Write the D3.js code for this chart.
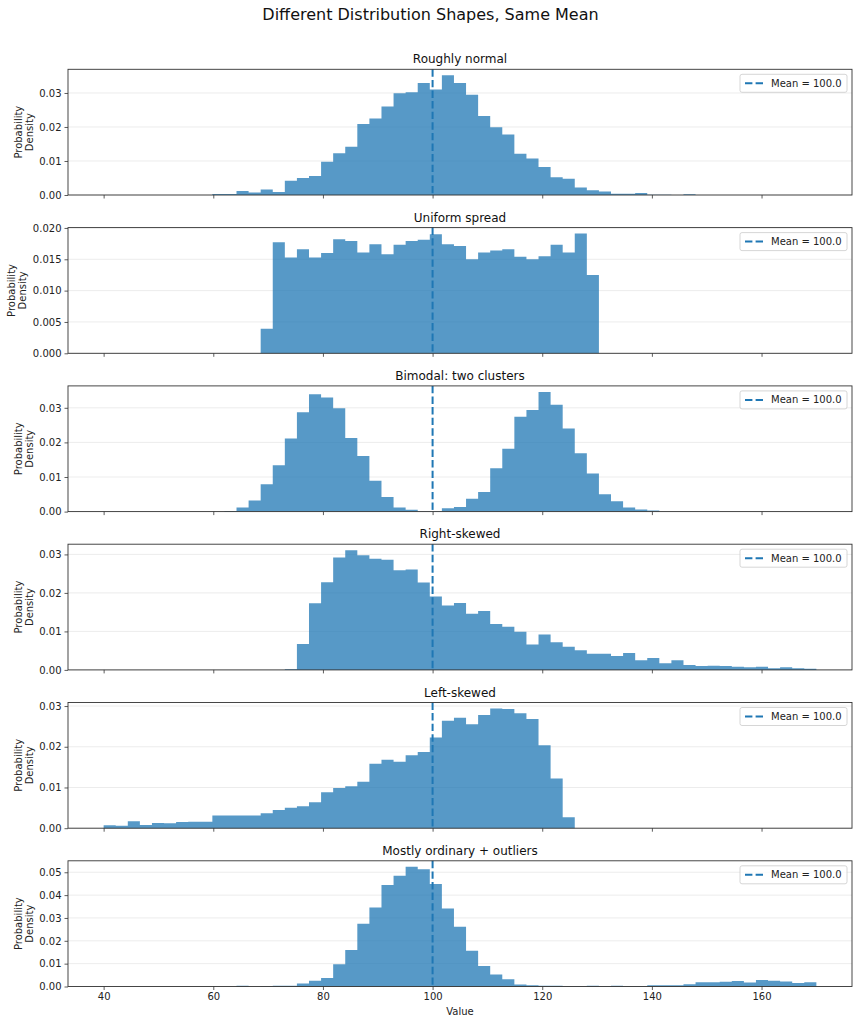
<!DOCTYPE html>
<html>
<head>
<meta charset="utf-8">
<script src="https://cdn.jsdelivr.net/npm/d3@7"></script>
<style>
    body { margin: 0; background: #fff; }
    svg { font-family: "DejaVu Sans", sans-serif; }
</style>
</head>
<body>
<div id="chart"></div>
<script>
// shared histogram bins: 59 equal bins from 40 to 170
const binLo = 40
const binHi = 170
const binCount = 59
const xTicks = [40, 60, 80, 100, 120, 140, 160]
const meanValue = 100

const panelTitles = ["Roughly normal", "Uniform spread", "Bimodal: two clusters", "Right-skewed", "Left-skewed", "Mostly ordinary + outliers"]

// first non-empty bin index for each panel
const firstBin = [9, 13, 10, 15, 0, 11]

const normalDensity = [0.0003, 0.0003, 0.0012, 0.0007, 0.0016, 0.0009, 0.0042, 0.0050, 0.0056, 0.0098,
    0.0123, 0.0142, 0.0209, 0.0225, 0.0260, 0.0299, 0.0302, 0.0329, 0.0310, 0.0352,
    0.0329, 0.0295, 0.0232, 0.0199, 0.0178, 0.0121, 0.0107, 0.0082, 0.0052, 0.0048,
    0.0022, 0.0014, 0.0010, 0.0004, 0.0004, 0.0006, 0.0001, 0.0001, 0, 0.0002]
const uniformDensity = [0.0039, 0.0177, 0.0153, 0.0166, 0.0153, 0.0160, 0.0182, 0.0179, 0.0161, 0.0174,
    0.0158, 0.0173, 0.0179, 0.0181, 0.0190, 0.0174, 0.0171, 0.0150, 0.0161, 0.0164,
    0.0166, 0.0154, 0.0150, 0.0155, 0.0173, 0.0161, 0.0191, 0.0125]
const bimodalDensity = [0.0002, 0.0012, 0.0032, 0.0079, 0.0134, 0.0211, 0.0287, 0.0339, 0.0330, 0.0299,
    0.0213, 0.0161, 0.0089, 0.0042, 0.0012, 0.0005, 0.0001, 0.0001, 0.0010, 0.0013,
    0.0037, 0.0057, 0.0125, 0.0182, 0.0274, 0.0294, 0.0346, 0.0309, 0.0240, 0.0169,
    0.0110, 0.0050, 0.0030, 0.0012, 0.0006, 0.0003]
const rightDensity = [0.0002, 0.0067, 0.0173, 0.0228, 0.0292, 0.0311, 0.0298, 0.0289, 0.0286, 0.0259,
    0.0261, 0.0227, 0.0191, 0.0167, 0.0174, 0.0146, 0.0153, 0.0119, 0.0112, 0.0099,
    0.0066, 0.0092, 0.0072, 0.0060, 0.0051, 0.0042, 0.0042, 0.0036, 0.0044, 0.0025,
    0.0031, 0.0017, 0.0025, 0.0013, 0.0010, 0.0011, 0.0010, 0.0008, 0.0007, 0.0008,
    0.0004, 0.0007, 0.0004, 0.0003]
const leftDensity = [0.0007, 0.0006, 0.0017, 0.0008, 0.0013, 0.0012, 0.0015, 0.0016, 0.0016, 0.0031,
    0.0031, 0.0031, 0.0031, 0.0037, 0.0045, 0.0050, 0.0054, 0.0064, 0.0088, 0.0099,
    0.0103, 0.0114, 0.0158, 0.0168, 0.0163, 0.0179, 0.0187, 0.0223, 0.0264, 0.0271,
    0.0255, 0.0278, 0.0294, 0.0293, 0.0282, 0.0268, 0.0204, 0.0122, 0.0027]
const outlierDensity = [0.0003, 0, 0.0001, 0.0003, 0.0003, 0.0013, 0.0025, 0.0037, 0.0097, 0.0160,
    0.0275, 0.0346, 0.0444, 0.0485, 0.0524, 0.0513, 0.0449, 0.0341, 0.0262, 0.0156,
    0.0090, 0.0053, 0.0032, 0.0009, 0.0006, 0.0003, 0.0003, 0.0001, 0.0001, 0.0003,
    0.0001, 0.0003, 0.0001, 0.0001, 0.0006, 0.0006, 0.0006, 0.0010, 0.0019, 0.0019,
    0.0021, 0.0024, 0.0018, 0.0028, 0.0025, 0.0022, 0.0015, 0.0019]

const yTicksSmall = [0, 0.01, 0.02, 0.03]
const yTicksUniform = [0, 0.005, 0.010, 0.015, 0.020]
const yTicksOutlier = [0, 0.01, 0.02, 0.03, 0.04, 0.05]

const W = 859, H = 1024
const margin = { left: 68, right: 7 }
const panelTop0 = 69.3, panelStep = 158.3, panelH = 125.7
const barColor = "#1f77b4"

const series = [normalDensity, uniformDensity, bimodalDensity, rightDensity, leftDensity, outlierDensity]
const yTickSets = [yTicksSmall, yTicksUniform, yTicksSmall, yTicksSmall, yTicksSmall, yTicksOutlier]
const yFormats = [".2f", ".3f", ".2f", ".2f", ".2f", ".2f"]

var svg = d3.select("#chart").append("svg")
    .attr("width", W).attr("height", H)

svg.append("text")
    .attr("x", W / 2 + 1).attr("y", 20)
    .attr("text-anchor", "middle")
    .attr("font-size", 16)
    .attr("fill", "#111")
    .text("Different Distribution Shapes, Same Mean")

var binW = (binHi - binLo) / binCount
var x = d3.scaleLinear()
    .domain([binLo - 0.05 * (binHi - binLo), binHi + 0.05 * (binHi - binLo)])
    .range([margin.left, W - margin.right])

series.forEach((vals, p) => {
    var top = panelTop0 + p * panelStep
    // step points: left edge of each bin, plus a closing point at the last right edge
    var pts = vals.map((v, i) => ({ x: binLo + (firstBin[p] + i) * binW, v: v }))
    pts.push({ x: binLo + (firstBin[p] + vals.length) * binW, v: 0 })
    var y = d3.scaleLinear()
        .domain([0, d3.max(vals) * 1.05])
        .range([top + panelH, top])
    var g = svg.append("g")

    // grid
    g.selectAll("line.grid").data(yTickSets[p]).enter().append("line")
        .attr("x1", x.range()[0]).attr("x2", x.range()[1])
        .attr("y1", d => y(d)).attr("y2", d => y(d))
        .attr("stroke", "#b0b0b0").attr("stroke-opacity", 0.3).attr("stroke-width", 0.8)

    // histogram bars as one stepped area
    var area = d3.area()
        .x(d => x(d.x))
        .y0(y(0))
        .y1(d => y(d.v))
        .curve(d3.curveStepAfter)
    g.append("path")
        .datum(pts)
        .attr("d", area)
        .attr("fill", barColor).attr("fill-opacity", 0.75)

    // mean line
    g.append("line")
        .attr("x1", x(meanValue)).attr("x2", x(meanValue))
        .attr("y1", top).attr("y2", top + panelH)
        .attr("stroke", barColor).attr("stroke-width", 2)
        .attr("stroke-dasharray", "7.4,3.2")

    // axes
    var yAxis = d3.axisLeft(y).tickValues(yTickSets[p]).tickFormat(d3.format(yFormats[p])).tickSize(3.5).tickPadding(3)
    var ya = g.append("g").attr("transform", `translate(${x.range()[0]},0)`).call(yAxis)
    var xAxis = d3.axisBottom(x).tickValues(xTicks).tickSize(3.5).tickPadding(3)
    if (p < series.length - 1) xAxis.tickFormat("")
    var xa = g.append("g").attr("transform", `translate(0,${top + panelH})`).call(xAxis)
    ;[ya, xa].forEach(a => {
        a.select(".domain").remove()
        a.selectAll("line").attr("stroke", "#333").attr("stroke-width", 0.8)
        a.selectAll("text").attr("font-size", 10).attr("fill", "#222").attr("font-family", "DejaVu Sans")
    })

    // frame
    g.append("rect")
        .attr("x", x.range()[0]).attr("y", top)
        .attr("width", x.range()[1] - x.range()[0]).attr("height", panelH)
        .attr("fill", "none").attr("stroke", "#333").attr("stroke-width", 0.9)

    // titles
    g.append("text")
        .attr("x", (x.range()[0] + x.range()[1]) / 2).attr("y", top - 6)
        .attr("text-anchor", "middle").attr("font-size", 12).attr("fill", "#111")
        .text(panelTitles[p])
    var labelX = yFormats[p] == ".3f" ? 17 : 24
    var yl = g.append("text")
        .attr("transform", `translate(${labelX},${top + panelH / 2}) rotate(-90)`)
        .attr("text-anchor", "middle").attr("font-size", 10).attr("fill", "#222")
    yl.append("tspan").attr("x", 0).attr("dy", "-0.2em").text("Probability")
    yl.append("tspan").attr("x", 0).attr("dy", "1.1em").text("Density")

    // legend
    var lx = x.range()[1] - 5 - 107, ly = top + 5
    var lg = g.append("g").attr("transform", `translate(${lx},${ly})`)
    lg.append("rect").attr("width", 107).attr("height", 18).attr("rx", 2)
        .attr("fill", "#fff").attr("fill-opacity", 0.8)
        .attr("stroke", "#ccc").attr("stroke-width", 0.8)
    lg.append("line").attr("x1", 5).attr("x2", 23).attr("y1", 9).attr("y2", 9)
        .attr("stroke", barColor).attr("stroke-width", 2).attr("stroke-dasharray", "7.4,3.2")
    lg.append("text").attr("x", 31).attr("y", 12.5)
        .attr("font-size", 10).attr("fill", "#222")
        .text("Mean = " + meanValue.toFixed(1))
})

svg.append("text")
    .attr("x", (x.range()[0] + x.range()[1]) / 2).attr("y", 1015)
    .attr("text-anchor", "middle").attr("font-size", 10).attr("fill", "#222")
    .text("Value")
</script>
</body>
</html>
